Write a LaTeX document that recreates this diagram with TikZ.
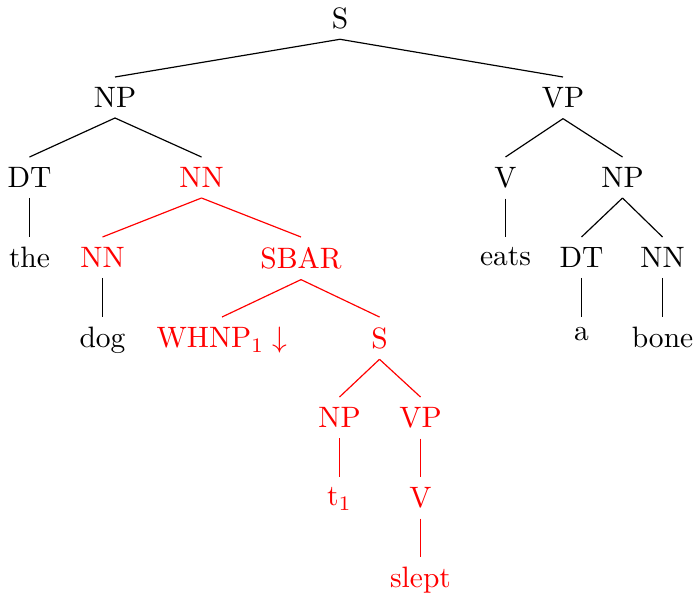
\documentclass[tikz,border=0pt]{standalone}
\begin{document}
\begin{tikzpicture}[x=0.339pt,y=-0.339pt,
  tn/.style={anchor=north, inner sep=0.3333em},
  hl/.style={tn, text=red},
  bedge/.style={draw=black, line width=0.4pt},
  redge/.style={draw=red, line width=0.4pt}]
\useasboundingbox (0,0) rectangle (697,597);
% rows (north anchors)
\def\ra{-3}\def\rb{77}\def\rc{157}\def\rd{237}
\def\re{317}\def\rf{397}\def\rg{477}\def\rh{557}
\node[tn] (S)    at (340,\ra) {S};
\node[tn] (NPa)  at (115,\rb) {NP};
\node[tn] (VPa)  at (563,\rb) {VP};
\node[tn] (DTa)  at (29.5,\rc) {DT};
\node[hl] (NNa)  at (201.5,\rc) {NN};
\node[tn] (Va)   at (505.5,\rc) {V};
\node[tn] (NPb)  at (622.5,\rc) {NP};
\node[tn] (the)  at (29.5,\rd) {the};
\node[hl] (NNb)  at (102.5,\rd) {NN};
\node[hl] (SBAR) at (301,\rd) {SBAR};
\node[tn] (eats) at (505.5,\rd) {eats};
\node[tn] (DTb)  at (581.5,\rd) {DT};
\node[tn] (NNc)  at (662.5,\rd) {NN};
\node[tn] (dog)  at (102.5,\re) {dog};
\node[hl] (WHNP) at (222,\re) {WHNP$_1\downarrow$};
\node[hl] (Sb)   at (379.5,\re) {S};
\node[tn] (a)    at (581.5,\re) {a};
\node[tn] (bone) at (662.5,\re) {bone};
\node[hl] (NPc)  at (339.5,\rf) {NP};
\node[hl] (VPc)  at (420.5,\rf) {VP};
\node[hl] (t)    at (339.5,\rg) {t$_1$};
\node[hl] (Vc)   at (420.5,\rg) {V};
\node[hl] (slept) at (420.5,\rh) {slept};
% edges
\draw[bedge] (S.south) -- (NPa.north);
\draw[bedge] (S.south) -- (VPa.north);
\draw[bedge] (NPa.south) -- (DTa.north);
\draw[bedge] (NPa.south) -- (NNa.north);
\draw[bedge] (VPa.south) -- (Va.north);
\draw[bedge] (VPa.south) -- (NPb.north);
\draw[bedge] (DTa.south) -- (the.north);
\draw[redge] (NNa.south) -- (NNb.north);
\draw[redge] (NNa.south) -- (SBAR.north);
\draw[bedge] (Va.south) -- (eats.north);
\draw[bedge] (NPb.south) -- (DTb.north);
\draw[bedge] (NPb.south) -- (NNc.north);
\draw[bedge] (NNb.south) -- (dog.north);
\draw[redge] (SBAR.south) -- (WHNP.north);
\draw[redge] (SBAR.south) -- (Sb.north);
\draw[bedge] (DTb.south) -- (a.north);
\draw[bedge] (NNc.south) -- (bone.north);
\draw[redge] (Sb.south) -- (NPc.north);
\draw[redge] (Sb.south) -- (VPc.north);
\draw[redge] (NPc.south) -- (t.north);
\draw[redge] (VPc.south) -- (Vc.north);
\draw[redge] (Vc.south) -- (slept.north);
\end{tikzpicture}
\end{document}
